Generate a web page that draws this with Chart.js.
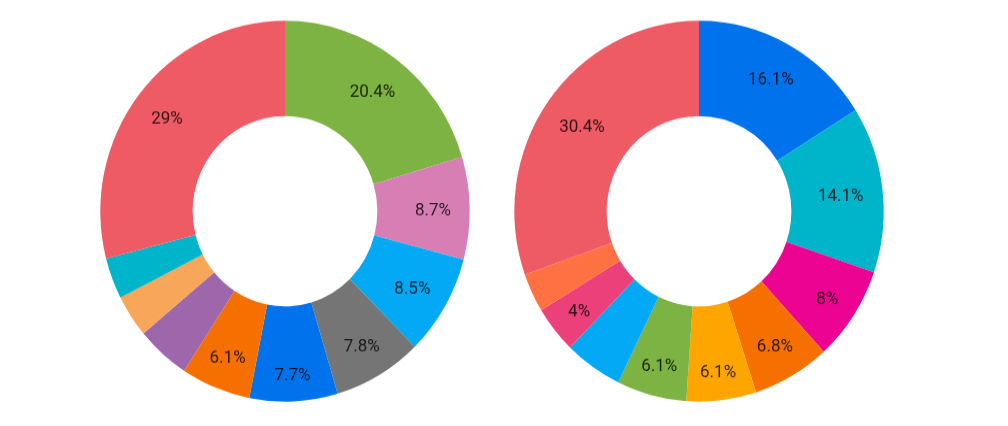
<!DOCTYPE html>
<html>
<head>
<meta charset="utf-8">
<script src="https://cdn.jsdelivr.net/npm/chart.js@4.4.1/dist/chart.umd.min.js"></script>
<style>
  html, body { margin: 0; padding: 0; background: #ffffff; }
  body { width: 1008px; height: 426px; position: relative; overflow: hidden; }
  .box { position: absolute; width: 400px; height: 400px; top: 5px;
         transform: scaleY(1.031); transform-origin: 0 0; }
  #boxL { left: 84.5px; }
  #boxR { left: 498.5px; }
</style>
</head>
<body>
<div class="box" id="boxL"><canvas id="chartL"></canvas></div>
<div class="box" id="boxR"><canvas id="chartR"></canvas></div>
<script>
// ---- data (percent shares, clockwise from 12 o'clock) ----
const leftCategories = ['Item A', 'Item B', 'Item C', 'Item D', 'Item E', 'Item F', 'Item G', 'Item H', 'Item I', 'Item J'];
const leftValues = [20.4, 8.7, 8.5, 7.8, 7.7, 6.1, 4.7, 3.6, 3.5, 29];
const leftColors = ['#7CB342', '#D77FB4', '#03A9F4', '#757575', '#0073EC', '#F57000', '#9E67AB', '#F8A65A', '#00B4C9', '#EF5B64'];
const leftShowLabel = [true, true, true, true, true, true, false, false, false, true];

const rightCategories = ['Item 1', 'Item 2', 'Item 3', 'Item 4', 'Item 5', 'Item 6', 'Item 7', 'Item 8', 'Item 9', 'Item 10'];
const rightValues = [16.1, 14.1, 8, 6.8, 6.1, 6.1, 5.1, 4, 3.3, 30.4];
const rightColors = ['#0073EC', '#00B4C9', '#EC0391', '#F57000', '#FFA500', '#7CB342', '#03A9F4', '#EC407A', '#FF7043', '#EF5B64'];
const rightShowLabel = [true, true, true, true, true, true, false, true, false, true];

function makeLabelPlugin(showArr) {
  return {
    id: 'sliceLabels',
    afterDatasetsDraw(chart) {
      const ctx = chart.ctx;
      const ds = chart.data.datasets[0];
      const meta = chart.getDatasetMeta(0);
      ctx.save();
      ctx.font = '17px Roboto';
      ctx.fillStyle = 'rgba(0,0,0,0.8)';
      ctx.textAlign = 'center';
      ctx.textBaseline = 'middle';
      meta.data.forEach((arc, i) => {
        if (!showArr[i]) return;
        const text = ds.data[i] + '%';
        const p = arc.getProps(['x', 'y', 'startAngle', 'endAngle', 'outerRadius'], true);
        const mid = (p.startAngle + p.endAngle) / 2;
        const ux = Math.cos(mid), uy = Math.sin(mid);
        const w = ctx.measureText(text).width / 2;
        const h = 7;
        const L = 0.9 * p.outerRadius;
        const B = w * Math.abs(ux) + h * Math.abs(uy);
        const t = -B + Math.sqrt(B * B - (w * w + h * h - L * L));
        ctx.fillText(text, p.x + t * ux, p.y + t * uy + 2);
      });
      ctx.restore();
    }
  };
}

function makeChart(id, cats, vals, cols, show) {
  return new Chart(document.getElementById(id), {
    type: 'doughnut',
    data: {
      labels: cats,
      datasets: [{ data: vals, backgroundColor: cols, borderWidth: 0, hoverOffset: 0 }]
    },
    options: {
      responsive: true,
      maintainAspectRatio: false,
      animation: false,
      cutout: '50%',
      layout: { padding: 15.3 },
      plugins: { legend: { display: false }, tooltip: { enabled: false } }
    },
    plugins: [makeLabelPlugin(show)]
  });
}

makeChart('chartL', leftCategories, leftValues, leftColors, leftShowLabel);
makeChart('chartR', rightCategories, rightValues, rightColors, rightShowLabel);
</script>
</body>
</html>
